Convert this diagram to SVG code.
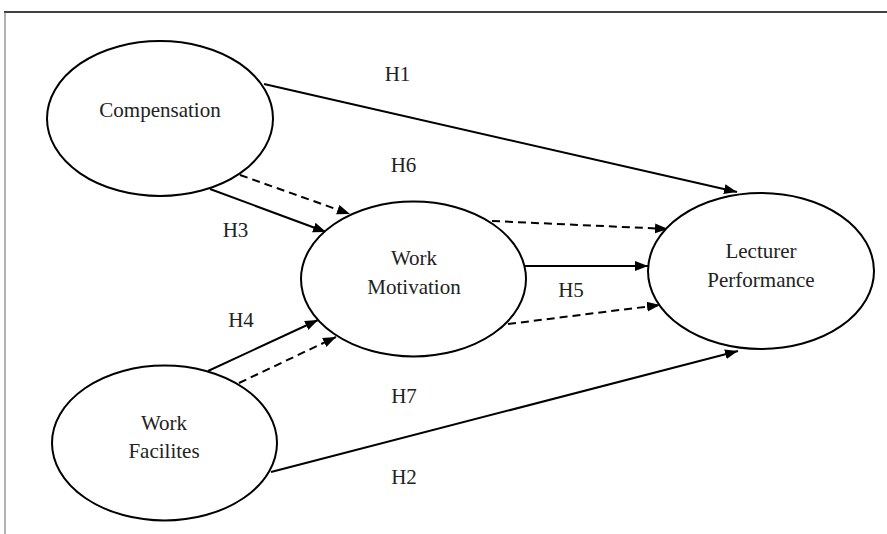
<svg xmlns="http://www.w3.org/2000/svg" width="887" height="534" viewBox="0 0 887 534">
<style>
.node ellipse{fill:#fff;stroke:#000;stroke-width:2}
text{font-family:"Liberation Serif","Times New Roman",serif;font-size:21px;fill:#222;text-anchor:middle}
.c line{stroke:#000;stroke-width:2;fill:none}
.c .d{stroke-dasharray:8 5}
</style>
<defs>
<marker id="ah" markerUnits="userSpaceOnUse" markerWidth="14" markerHeight="12" viewBox="0 0 14 12" refX="13" refY="6" orient="auto">
<path d="M0,1 L13,6 L0,11 Z" fill="#000"/>
</marker>
</defs>
<rect width="887" height="534" fill="#fff"/>
<line x1="4" y1="12" x2="887" y2="12" stroke="#000" stroke-width="1.5"/>
<line x1="5" y1="12" x2="5" y2="534" stroke="#666" stroke-width="1"/>
<g class="c" id="connectors">
<line x1="264" y1="84" x2="737" y2="192" marker-end="url(#ah)"/>
<line class="d" x1="240" y1="175" x2="350" y2="214" marker-end="url(#ah)"/>
<line x1="210" y1="189" x2="326" y2="232" marker-end="url(#ah)"/>
<line class="d" x1="492" y1="221" x2="668" y2="229" marker-end="url(#ah)"/>
<line x1="525" y1="266" x2="648" y2="266" marker-end="url(#ah)"/>
<line class="d" x1="508" y1="324" x2="660" y2="305" marker-end="url(#ah)"/>
<line x1="208" y1="371" x2="318" y2="320" marker-end="url(#ah)"/>
<line class="d" x1="239" y1="383" x2="336" y2="337" marker-end="url(#ah)"/>
<line x1="271" y1="472" x2="738" y2="351" marker-end="url(#ah)"/>
</g>
<g id="compensation" class="node">
<ellipse cx="160" cy="118.5" rx="113" ry="77.5"/>
<text x="160" y="117">Compensation</text>
</g>
<g id="work-motivation" class="node">
<ellipse cx="413.5" cy="279" rx="112.5" ry="77.5"/>
<text x="414" y="265">Work</text>
<text x="414" y="294">Motivation</text>
</g>
<g id="lecturer-performance" class="node">
<ellipse cx="761" cy="271" rx="113" ry="78"/>
<text x="761" y="258">Lecturer</text>
<text x="761" y="287">Performance</text>
</g>
<g id="work-facilites" class="node">
<ellipse cx="164.5" cy="443" rx="112.5" ry="77.5"/>
<text x="164" y="430">Work</text>
<text x="164" y="458">Facilites</text>
</g>
<g id="labels">
<text x="397.5" y="81">H1</text>
<text x="403.5" y="172">H6</text>
<text x="235.5" y="237">H3</text>
<text x="571" y="297">H5</text>
<text x="241" y="327">H4</text>
<text x="404" y="403">H7</text>
<text x="404" y="484">H2</text>
</g>
</svg>
